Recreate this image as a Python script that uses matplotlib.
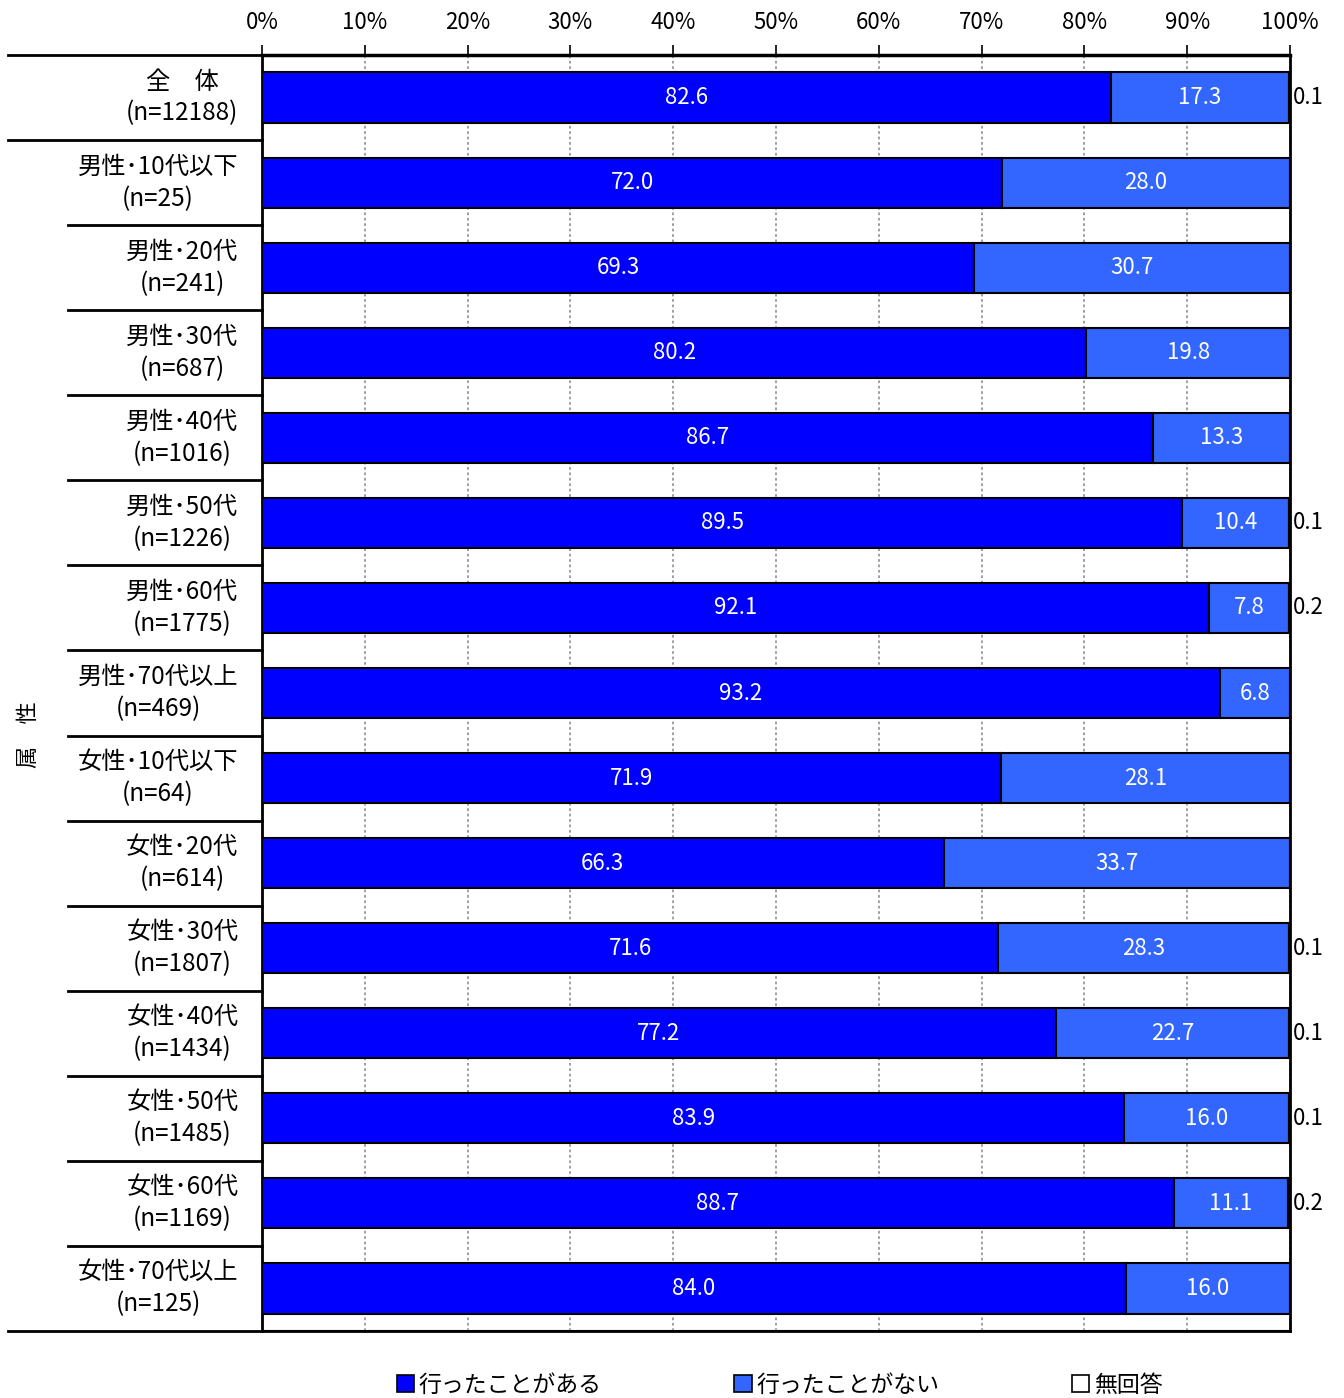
import matplotlib.pyplot as plt
from matplotlib.patches import Patch
from matplotlib.transforms import blended_transform_factory

plt.rcParams['font.family'] = ['Noto Sans CJK JP', 'DejaVu Sans']

categories = ['全　体', '男性･10代以下', '男性･20代', '男性･30代', '男性･40代', '男性･50代',
              '男性･60代', '男性･70代以上', '女性･10代以下', '女性･20代', '女性･30代',
              '女性･40代', '女性･50代', '女性･60代', '女性･70代以上']
counts = [12188, 25, 241, 687, 1016, 1226, 1775, 469, 64, 614, 1807, 1434, 1485, 1169, 125]
went = [82.6, 72.0, 69.3, 80.2, 86.7, 89.5, 92.1, 93.2, 71.9, 66.3, 71.6, 77.2, 83.9, 88.7, 84.0]
not_went = [17.3, 28.0, 30.7, 19.8, 13.3, 10.4, 7.8, 6.8, 28.1, 33.7, 28.3, 22.7, 16.0, 11.1, 16.0]
no_answer = [0.1, 0.0, 0.0, 0.0, 0.0, 0.1, 0.2, 0.0, 0.0, 0.0, 0.1, 0.1, 0.1, 0.2, 0.0]
series_names = ['行ったことがある', '行ったことがない', '無回答']
colors = ['#0000FF', '#3366FF', '#FFFFFF']

fig = plt.figure(figsize=(13.44, 13.98), dpi=100)
ax = fig.add_axes([262 / 1344, 1 - 1331 / 1398, 1028 / 1344, 1276 / 1398])

y = list(range(len(categories)))
h = 0.59
ax.barh(y, went, height=h, color=colors[0], edgecolor='black', linewidth=1.5, zorder=3)
ax.barh(y, not_went, left=went, height=h, color=colors[1], edgecolor='black', linewidth=1.5, zorder=3)
left2 = [a + b for a, b in zip(went, not_went)]
ax.barh(y, no_answer, left=left2, height=h, color=colors[2], edgecolor='black', linewidth=1.5, zorder=3)

for i in y:
    ax.text(went[i] / 2, i, f'{went[i]:.1f}', ha='center', va='center', color='white', fontsize=16, zorder=4)
    ax.text(went[i] + not_went[i] / 2, i, f'{not_went[i]:.1f}', ha='center', va='center',
            color='white', fontsize=16, zorder=4)
    if no_answer[i] > 0:
        ax.text(100.3, i, f'{no_answer[i]:.1f}', ha='left', va='center', color='black',
                fontsize=16, zorder=4, clip_on=False)

ax.set_xlim(0, 100)
ax.set_ylim(len(categories) - 0.5, -0.5)
ax.xaxis.tick_top()
ax.set_xticks(range(0, 101, 10))
ax.set_xticklabels([f'{v}%' for v in range(0, 101, 10)], fontsize=16)
ax.tick_params(axis='x', length=7, width=1.2, pad=8)
ax.set_yticks([])
ax.grid(axis='x', color='#999999', linestyle=(0, (1.5, 1.5)), linewidth=1.3, zorder=0)
for s in ['left', 'right']:
    ax.spines[s].set_linewidth(2)
ax.spines['top'].set_linewidth(2.5)
ax.spines['bottom'].set_linewidth(1.5)

tr = blended_transform_factory(ax.transAxes, ax.transData)
for i in y:
    ax.text(-0.023, i, f'{categories[i]}\n(n={counts[i]})', transform=tr, ha='right', va='center',
            multialignment='center', fontsize=17.5, linespacing=1.3)

# row separators on the left
x_full = (8 - 262) / 1028
x_grp = (68 - 262) / 1028
ax.plot([x_full, 1], [-0.5, -0.5], transform=tr, color='black', lw=2, clip_on=False)
ax.plot([x_full, 0], [0.5, 0.5], transform=tr, color='black', lw=2, clip_on=False)
for i in range(1, len(categories) - 1):
    ax.plot([x_grp, 0], [i + 0.5, i + 0.5], transform=tr, color='black', lw=2, clip_on=False)
ax.plot([x_full, 1], [len(categories) - 0.5] * 2, transform=tr, color='black', lw=2, clip_on=False)

fig.text(28 / 1344, 1 - 735 / 1398, '属　性', rotation=90, ha='center', va='center', fontsize=16)

handles = [Patch(facecolor=c, edgecolor='black', linewidth=1.2) for c in colors]
fig.legend(handles, series_names, loc='center', bbox_to_anchor=(0.58, 1 - 1385 / 1398), ncol=3,
           frameon=False, fontsize=16.5, handlelength=0.75, handleheight=0.75, handletextpad=0.2,
           columnspacing=5.8)

fig.savefig('out.png', dpi=100)
